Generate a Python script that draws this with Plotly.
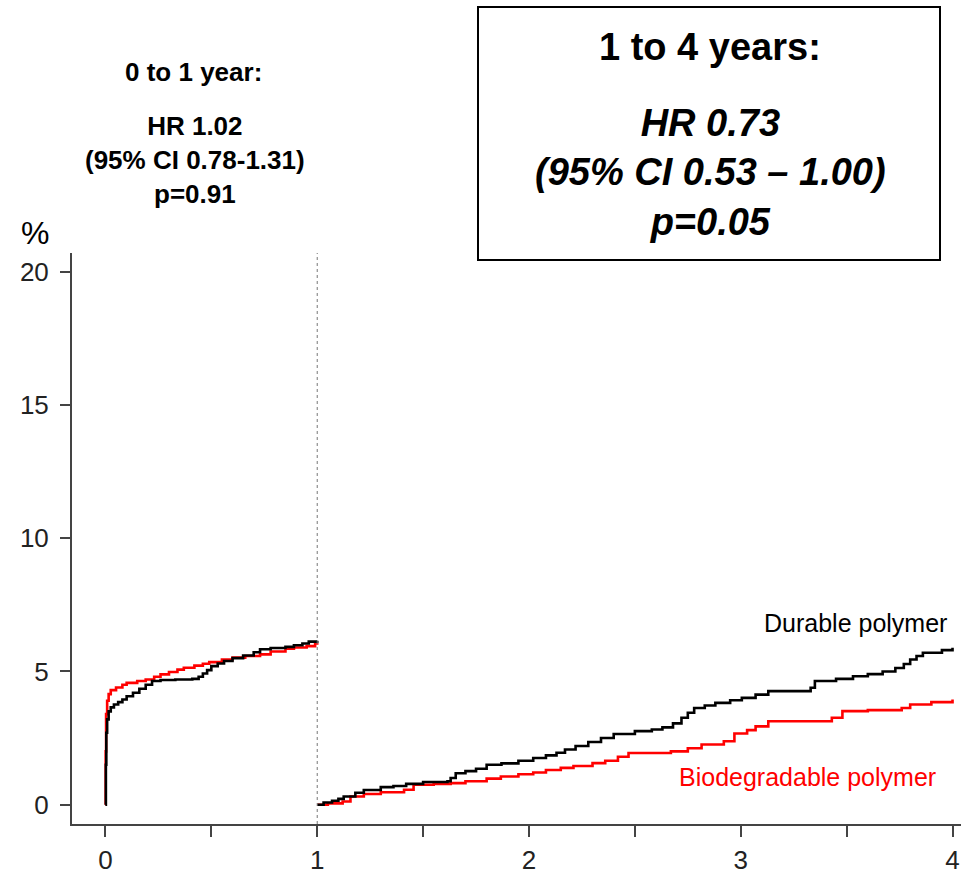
import plotly.graph_objects as go

# ---- data (years, cumulative %) ----
dp_early_x = [0, 0.002, 0.004, 0.008, 0.015, 0.025, 0.04, 0.06, 0.08, 0.10, 0.13, 0.16, 0.19, 0.22,
              0.26, 0.33, 0.41, 0.44, 0.46, 0.48, 0.50, 0.53, 0.56, 0.60, 0.65, 0.70, 0.73, 0.78,
              0.85, 0.89, 0.93, 0.96, 1.0]
dp_early_y = [0, 1.5, 2.7, 3.2, 3.5, 3.65, 3.76, 3.85, 3.95, 4.07, 4.2, 4.35, 4.5, 4.64,
              4.68, 4.70, 4.72, 4.8, 4.92, 5.05, 5.2, 5.3, 5.39, 5.5, 5.6, 5.72, 5.83, 5.88,
              5.92, 5.98, 6.05, 6.12, 6.15]

bp_early_x = [0, 0.001, 0.003, 0.008, 0.015, 0.025, 0.05, 0.08, 0.10, 0.15, 0.19, 0.23, 0.26, 0.30,
              0.34, 0.37, 0.42, 0.46, 0.49, 0.55, 0.60, 0.66, 0.73, 0.78, 0.85, 0.89, 0.95, 0.99, 1.0]
bp_early_y = [0, 2.0, 3.4, 3.9, 4.15, 4.3, 4.4, 4.5, 4.57, 4.64, 4.70, 4.8, 4.89, 4.98,
              5.07, 5.14, 5.22, 5.29, 5.35, 5.45, 5.52, 5.58, 5.64, 5.75, 5.85, 5.9, 5.95, 6.05, 6.07]

dp_late_x = [1.0, 1.03, 1.07, 1.10, 1.125, 1.18, 1.22, 1.30, 1.36, 1.42, 1.50, 1.615, 1.63, 1.654,
             1.70, 1.75, 1.80, 1.87, 1.95, 2.02, 2.08, 2.13, 2.17, 2.22, 2.28, 2.34, 2.40, 2.50,
             2.58, 2.63, 2.68, 2.72, 2.75, 2.78, 2.83, 2.88, 2.95, 3.005, 3.07, 3.13, 3.33, 3.35,
             3.45, 3.53, 3.60, 3.67, 3.73, 3.77, 3.80, 3.83, 3.86, 3.95, 4.0]
dp_late_y = [0, 0.08, 0.15, 0.22, 0.31, 0.45, 0.55, 0.66, 0.70, 0.78, 0.85, 0.88, 1.0, 1.18,
             1.26, 1.35, 1.50, 1.55, 1.65, 1.75, 1.85, 1.95, 2.07, 2.2, 2.35, 2.5, 2.65, 2.76,
             2.82, 2.9, 3.05, 3.26, 3.45, 3.63, 3.72, 3.82, 3.92, 4.01, 4.13, 4.26, 4.39, 4.64,
             4.72, 4.82, 4.9, 5.0, 5.13, 5.28, 5.45, 5.58, 5.70, 5.80, 5.89]

bp_late_x = [1.0, 1.05, 1.12, 1.157, 1.22, 1.30, 1.41, 1.455, 1.55, 1.63, 1.70, 1.80, 1.867, 1.95,
             2.02, 2.08, 2.15, 2.21, 2.30, 2.36, 2.42, 2.47, 2.67, 2.75, 2.815, 2.92, 2.97, 3.03,
             3.07, 3.13, 3.43, 3.48, 3.60, 3.76, 3.80, 3.90, 4.0]
bp_late_y = [0, 0.05, 0.12, 0.31, 0.40, 0.47, 0.56, 0.75, 0.78, 0.81, 0.88, 0.98, 1.06, 1.14,
             1.21, 1.30, 1.38, 1.45, 1.56, 1.65, 1.8, 1.94, 2.0, 2.12, 2.26, 2.38, 2.67, 2.8,
             2.94, 3.13, 3.26, 3.51, 3.55, 3.63, 3.76, 3.85, 3.95]

x_tickvals = [0, 0.5, 1, 1.5, 2, 2.5, 3, 3.5, 4]
x_ticktext = ["0", "", "1", "", "2", "", "3", "", "4"]
y_tickvals = [0, 5, 10, 15, 20]

# ---- layout geometry (pixels) ----
W, H = 961, 880
L, R, T, B = 72, 0, 253, 56
PW, PH = W - L - R, H - T - B


def px(x):
    return (x - L) / PW


def py(y):
    return (H - B - y) / PH


FONT = "Liberation Sans, Arial, sans-serif"

fig = go.Figure()
line_w = 2.6
fig.add_trace(go.Scatter(x=bp_early_x, y=bp_early_y, mode="lines", line_shape="hv",
                         line=dict(color="#ff0000", width=line_w), showlegend=False))
fig.add_trace(go.Scatter(x=dp_early_x, y=dp_early_y, mode="lines", line_shape="hv",
                         line=dict(color="#000000", width=line_w), showlegend=False))
fig.add_trace(go.Scatter(x=bp_late_x, y=bp_late_y, mode="lines", line_shape="hv",
                         line=dict(color="#ff0000", width=line_w), showlegend=False))
fig.add_trace(go.Scatter(x=dp_late_x, y=dp_late_y, mode="lines", line_shape="hv",
                         line=dict(color="#000000", width=line_w), showlegend=False))

# landmark line at 1 year
fig.add_shape(type="line", xref="x", yref="paper", x0=1, x1=1, y0=0, y1=1,
              line=dict(color="#777777", width=1, dash="dot"))

# box for 1-4 years
fig.add_shape(type="rect", xref="paper", yref="paper",
              x0=px(478), x1=px(940), y0=py(260), y1=py(7),
              line=dict(color="#000000", width=2), fillcolor="white", layer="above")

ann = []
ann.append(dict(text="<b>0 to 1 year:</b>", x=px(193), y=py(72), font=dict(size=26)))
ann.append(dict(text="<b>HR 1.02<br>(95% CI 0.78-1.31)<br>p=0.91</b>", x=px(195), y=py(160),
                font=dict(size=26)))
ann.append(dict(text="<b>1 to 4 years:</b>", x=px(710), y=py(47), font=dict(size=38)))
ann.append(dict(text="<b><i>HR 0.73<br>(95% CI 0.53 – 1.00)<br>p=0.05</i></b>", x=px(710),
                y=py(172), font=dict(size=38)))
ann.append(dict(text="%", x=px(35), y=py(233), font=dict(size=32)))
ann.append(dict(text="Durable polymer", x=px(855), y=py(623), font=dict(size=25)))
ann.append(dict(text="Biodegradable polymer", x=px(807), y=py(777), font=dict(size=25, color="#ff0000")))
for a in ann:
    f = a["font"]
    f.setdefault("color", "#000000")
    f["family"] = FONT
    fig.add_annotation(xref="paper", yref="paper", xanchor="center", yanchor="middle",
                       showarrow=False, align="center", **a)

fig.update_layout(
    width=W, height=H,
    margin=dict(l=L, r=R, t=T, b=B, pad=0, autoexpand=False),
    paper_bgcolor="white", plot_bgcolor="white",
    font=dict(family=FONT, color="#222222"),
    xaxis=dict(range=[-0.158, 4.04], tickvals=x_tickvals, ticktext=x_ticktext, automargin=False,
               ticks="outside", ticklen=11, tickwidth=1.5, tickcolor="#444444",
               showline=True, linecolor="#444444", linewidth=2, showgrid=False, zeroline=False,
               tickfont=dict(size=26, family=FONT, color="#222222"), ticklabelstandoff=1),
    yaxis=dict(range=[-0.724, 20.70], tickvals=y_tickvals, automargin=False,
               ticks="outside", ticklen=10, tickwidth=1.5, tickcolor="#444444",
               showline=True, linecolor="#444444", linewidth=2, showgrid=False, zeroline=False,
               tickfont=dict(size=26, family=FONT, color="#222222"), ticklabelstandoff=6),
)

fig.write_html("out.html")
